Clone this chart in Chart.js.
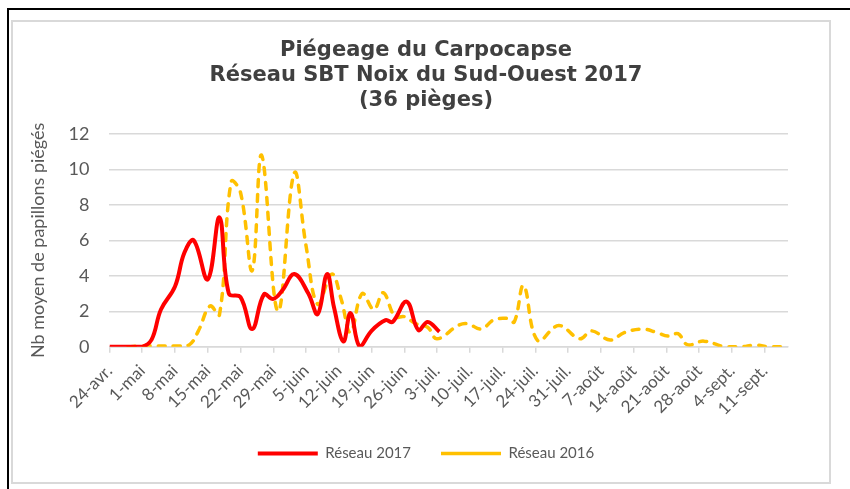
<!DOCTYPE html>
<html>
<head>
<meta charset="utf-8">
<script src="https://cdn.jsdelivr.net/npm/chart.js@4"></script>
<style>
  html, body { margin: 0; padding: 0; background: #fff; }
  #frame { position: absolute; left: 7px; top: 8px; width: 860px; height: 500px;
           border-left: 2px solid #000; border-top: 2px solid #000; }
  #box { position: absolute; left: 11px; top: 20px; width: 816px; height: 460px;
         border: 2px solid #d9d9d9; }
  #trapChart { position: absolute; left: 0; top: 0; }
</style>
</head>
<body>
<div id="frame"></div>
<div id="box"></div>
<canvas id="trapChart" width="850" height="489"></canvas>
<script>
// days counted from 24 april
const tickLabels = ['24-avr.', '1-mai', '8-mai', '15-mai', '22-mai', '29-mai', '5-juin', '12-juin',
  '19-juin', '26-juin', '3-juil.', '10-juil.', '17-juil.', '24-juil.', '31-juil.', '7-août',
  '14-août', '21-août', '28-août', '4-sept.', '11-sept.'];

const days2017 = [0, 4, 7, 9, 11, 14, 16, 18, 21, 23.5, 25.5, 28, 30.5, 33, 35, 37, 39.5, 42.5,
  44.5, 46.5, 48, 50, 51.5, 53.5, 56, 59, 60.5, 63.5, 66, 68, 70.5];
const values2017 = [0, 0, 0, 0.4, 2.1, 3.4, 5.3, 6.0, 3.8, 7.3, 3.0, 2.8, 1.0, 2.95, 2.7, 3.2, 4.1, 3.0,
  1.85, 4.1, 2.2, 0.3, 1.9, 0.0, 0.9, 1.5, 1.4, 2.55, 0.95, 1.4, 0.85];

const days2016 = [4, 7, 10, 14, 17, 19, 21.5, 23.5, 26, 28, 30.5, 32.5, 36, 39.5, 42, 44.5, 47.5,
  49.5, 51.5, 54, 56.5, 58.5, 61, 63, 65.5, 68, 70, 74.5, 76.5, 79.5, 82, 85, 86.5, 88.5, 91.5,
  96, 100.5, 103, 107, 110, 114, 117, 119.5, 121.5, 123.5, 127, 131.5, 135, 138, 141, 145];
const values2016 = [0, 0.05, 0.05, 0.05, 0.1, 0.9, 2.3, 1.8, 9.3, 8.7, 4.3, 10.8, 2.0, 9.8, 5.7,
  2.4, 4.1, 2.7, 0.8, 3.0, 2.1, 3.05, 1.7, 1.7, 1.3, 1.1, 0.45, 1.2, 1.3, 1.0, 1.5, 1.6, 1.4,
  3.45, 0.35, 1.2, 0.45, 0.9, 0.38, 0.8, 1.0, 0.8, 0.6, 0.74, 0.12, 0.32, 0, 0, 0.1, 0, 0];

const toPoints = (days, vals) => days.map((d, i) => ({ x: d, y: vals[i] }));

const ctx = document.getElementById('trapChart').getContext('2d');

const trapChart = new Chart(ctx, {
  type: 'line',
  data: {
    datasets: [{
      label: 'Réseau 2017',
      data: toPoints(days2017, values2017),
      borderColor: '#ff0000',
      backgroundColor: '#ff0000',
      borderWidth: 4,
      tension: 0.4,
      pointRadius: 0,
      fill: false
    }, {
      label: 'Réseau 2016',
      data: toPoints(days2016, values2016),
      borderColor: '#ffc000',
      backgroundColor: '#ffc000',
      borderWidth: 3.5,
      borderDash: [7, 8],
      borderCapStyle: 'round',
      tension: 0.4,
      pointRadius: 0,
      fill: false
    }]
  },
  options: {
    responsive: false,
    animation: false,
    layout: {
      padding: { left: 27, right: 25, top: 27, bottom: 18 }
    },
    plugins: {
      title: {
        display: true,
        text: ['Piégeage du Carpocapse', 'Réseau SBT Noix du Sud-Ouest 2017', '(36 pièges)'],
        color: '#404040',
        font: { family: 'DejaVu Sans', size: 21, weight: 'bold', lineHeight: 1.19 },
        padding: { top: 11, bottom: 21 }
      },
      legend: {
        position: 'bottom',
        labels: {
          usePointStyle: true,
          pointStyle: 'line',
          pointStyleWidth: 60,
          color: '#595959',
          font: { family: 'Lato', size: 15 },
          padding: 30
        }
      },
      tooltip: { enabled: false }
    },
    scales: {
      x: {
        type: 'linear',
        min: 0,
        max: 145,
        afterFit: (scale) => {
          scale.paddingLeft = 0;
          scale.paddingRight = 62;
          scale.height -= 11;
        },
        grid: {
          drawOnChartArea: false,
          drawTicks: true,
          tickLength: 6,
          color: '#d9d9d9',
          lineWidth: 1.5
        },
        border: { color: '#d9d9d9', width: 1.5 },
        ticks: {
          stepSize: 7,
          includeBounds: false,
          autoSkip: false,
          minRotation: 45,
          maxRotation: 45,
          color: '#595959',
          padding: 8,
          font: { family: 'Lato', size: 17 },
          callback: (value) => tickLabels[Math.round(value / 7)] ?? ''
        }
      },
      y: {
        min: 0,
        max: 12,
        grid: { color: '#d9d9d9', lineWidth: 1.5, drawTicks: false },
        border: { display: false },
        ticks: {
          stepSize: 2,
          color: '#595959',
          padding: 20,
          font: { family: 'Lato', size: 18 }
        },
        title: {
          display: true,
          text: 'Nb moyen de papillons piégés',
          color: '#595959',
          font: { family: 'Lato', size: 18 },
          padding: { top: 0, bottom: 0 }
        }
      }
    }
  }
});
</script>
</body>
</html>
